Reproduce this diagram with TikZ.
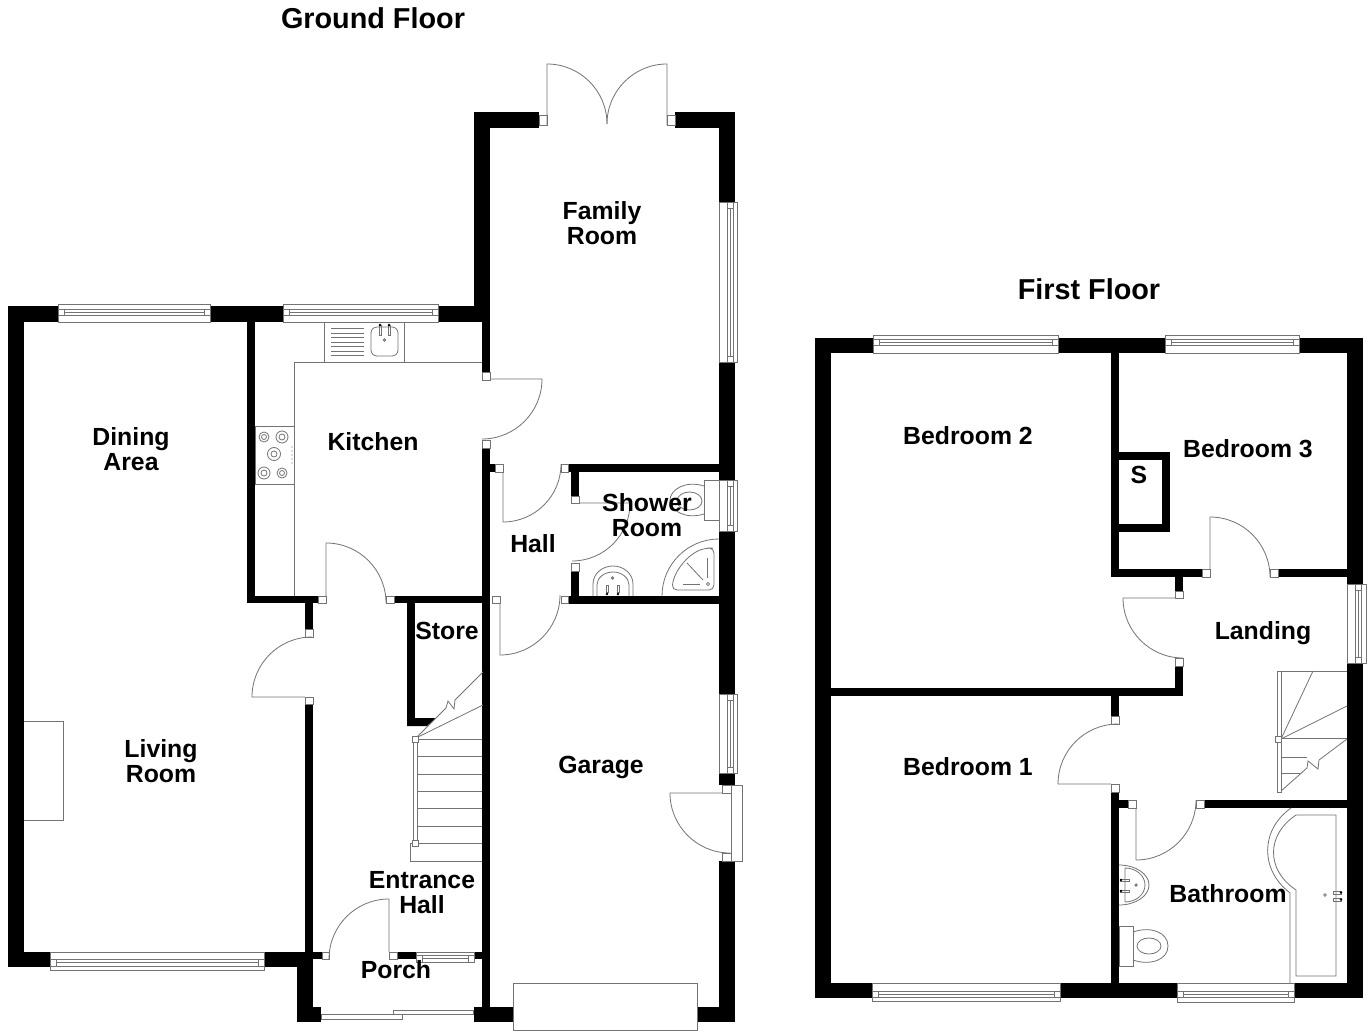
\documentclass[tikz,border=0pt]{standalone}
\usepackage{fontspec}
\setmainfont{Liberation Sans}
\usepackage{tikz}

\tikzset{
	wall/.style={fill=black},
	fitting/.style={draw=black!55, line width=0.8pt},
	pane/.style={draw=black!55, line width=0.8pt, fill=white},
	tapend/.style={fill=black},
	roomlabel/.style={font=\fontsize{24.8}{25}\selectfont\bfseries, align=center, inner sep=0pt},
	floorlabel/.style={font=\fontsize{28.8}{29}\selectfont\bfseries, align=center, inner sep=0pt}
}

% glazing bar of a window: from, to, and the two sides of the bar
\newcommand{\hglaze}[4]{\draw[fitting] (#1,#3) rectangle (#2,#4)
	({#1+6},#3) -- ({#1+6},#4) ({#2-6},#3) -- ({#2-6},#4)
	({#1+6},{(#3+#4)/2}) -- ({#2-6},{(#3+#4)/2});}
\newcommand{\vglaze}[4]{\draw[fitting] (#3,#1) rectangle (#4,#2)
	(#3,{#1+6}) -- (#4,{#1+6}) (#3,{#2-6}) -- (#4,{#2-6})
	({(#3+#4)/2},{#1+6}) -- ({(#3+#4)/2},{#2-6});}

\begin{document}
\begin{tikzpicture}[x=1pt, y=-1pt]
	\def \swing {60}

	\useasboundingbox (0,0) rectangle (1368,1032);
	\fill[white] (0,0) rectangle (1368,1032);

	% ground floor walls
	\fill[wall] (8,306) rectangle (58,322);
	\fill[wall] (210,306) rectangle (283,322);
	\fill[wall] (438,306) rectangle (490,322);
	\fill[wall] (8,306) rectangle (24,967);
	\fill[wall] (8,952) rectangle (50,967);
	\fill[wall] (264,952) rectangle (313,967);
	\fill[wall] (297,952) rectangle (313,1022);
	\fill[wall] (297,1007) rectangle (321,1022);
	\fill[wall] (305,952) rectangle (322,959);
	\fill[wall] (305,704) rectangle (313,952);
	\fill[wall] (305,603) rectangle (313,629);
	\fill[wall] (247,322) rectangle (255,603);
	\fill[wall] (247,596) rectangle (318,603);
	\fill[wall] (394,596) rectangle (490,603);
	\fill[wall] (407,596) rectangle (415,726);
	\fill[wall] (407,718) -- (436,718) -- (427,726) -- (407,726) -- cycle;
	\fill[wall] (474,112) rectangle (490,322);
	\fill[wall] (474,112) rectangle (539,128);
	\fill[wall] (675,112) rectangle (735,128);
	\fill[wall] (482,322) rectangle (490,372);
	\fill[wall] (482,448) rectangle (490,1022);
	\fill[wall] (490,464) rectangle (495,472);
	\fill[wall] (719,112) rectangle (735,202);
	\fill[wall] (719,362) rectangle (735,480);
	\fill[wall] (719,531) rectangle (735,694);
	\fill[wall] (719,773) rectangle (735,785);
	\fill[wall] (719,861) rectangle (735,1022);
	\fill[wall] (568,464) rectangle (719,472);
	\fill[wall] (571,472) rectangle (579,496);
	\fill[wall] (571,571) rectangle (579,596);
	\fill[wall] (568,596) rectangle (719,604);
	\fill[wall] (397,952) rectangle (416,959);
	\fill[wall] (474,952) rectangle (482,959);
	\fill[wall] (474,1007) rectangle (513,1022);
	\fill[wall] (697,1007) rectangle (735,1022);

	% first floor walls
	\fill[wall] (815,338) rectangle (873,353);
	\fill[wall] (1058,338) rectangle (1165,353);
	\fill[wall] (1299,338) rectangle (1363,353);
	\fill[wall] (815,338) rectangle (831,998);
	\fill[wall] (815,983) rectangle (872,998);
	\fill[wall] (1060,983) rectangle (1177,998);
	\fill[wall] (1294,983) rectangle (1363,998);
	\fill[wall] (1347,338) rectangle (1363,584);
	\fill[wall] (1347,663) rectangle (1363,998);
	\fill[wall] (1111,353) rectangle (1119,577);
	\fill[wall] (1111,569) rectangle (1202,577);
	\fill[wall] (1278,569) rectangle (1347,577);
	\fill[wall] (1119,452) rectangle (1170,460);
	\fill[wall] (1162,452) rectangle (1170,532);
	\fill[wall] (1119,524) rectangle (1170,532);
	\fill[wall] (1175,577) rectangle (1183,591);
	\fill[wall] (1175,666) rectangle (1183,696);
	\fill[wall] (831,688) rectangle (1183,696);
	\fill[wall] (1111,696) rectangle (1119,716);
	\fill[wall] (1111,792) rectangle (1119,983);
	\fill[wall] (1119,800) rectangle (1128,808);
	\fill[wall] (1204,800) rectangle (1347,808);

	% windows
	\draw[pane] (58,304) rectangle (210,322);
	\hglaze{58}{210}{309}{315}
	\draw[pane] (283,304) rectangle (438,322);
	\hglaze{283}{438}{309}{315}
	\draw[pane] (719,202) rectangle (737,362);
	\vglaze{202}{362}{727}{733}
	\draw[pane] (719,480) rectangle (737,531);
	\vglaze{480}{531}{727}{733}
	\draw[pane] (719,694) rectangle (737,773);
	\vglaze{694}{773}{727}{733}
	\draw[pane] (50,952) rectangle (264,970);
	\hglaze{50}{264}{959}{966}
	\draw[pane] (416,952) rectangle (474,962);
	\hglaze{416}{474}{955}{962}
	\draw[pane] (873,335) rectangle (1058,353);
	\hglaze{873}{1058}{339}{345}
	\draw[pane] (1165,335) rectangle (1299,353);
	\hglaze{1165}{1299}{339}{345}
	\draw[pane] (1347,584) rectangle (1366,663);
	\vglaze{584}{663}{1355}{1361}
	\draw[pane] (872,983) rectangle (1060,1001);
	\hglaze{872}{1060}{991}{997}
	\draw[pane] (1177,983) rectangle (1294,1002);
	\hglaze{1177}{1294}{991}{997}

	% outside doors
	\draw[pane] (513,983) rectangle (697,1030);
	\draw[pane] (321,1014) rectangle (402,1019);
	\draw[pane] (393,1010) rectangle (473,1014);
	\draw[pane] (731,785) rectangle (742,861);

	% door posts
	\draw[pane] (539,115) rectangle (547,125);
	\draw[pane] (667,115) rectangle (675,125);
	\draw[pane] (482,372) rectangle (490,380);
	\draw[pane] (482,440) rectangle (490,448);
	\draw[pane] (305,629) rectangle (313,637);
	\draw[pane] (305,697) rectangle (313,704);
	\draw[pane] (318,596) rectangle (326,603);
	\draw[pane] (386,596) rectangle (394,603);
	\draw[pane] (495,464) rectangle (503,472);
	\draw[pane] (561,464) rectangle (568,472);
	\draw[pane] (571,496) rectangle (579,503);
	\draw[pane] (571,563) rectangle (579,571);
	\draw[pane] (492,596) rectangle (500,603);
	\draw[pane] (561,596) rectangle (568,603);
	\draw[pane] (322,952) rectangle (329,959);
	\draw[pane] (389,952) rectangle (397,959);
	\draw[pane] (722,785) rectangle (731,793);
	\draw[pane] (722,853) rectangle (731,861);
	\draw[pane] (1202,569) rectangle (1210,577);
	\draw[pane] (1270,569) rectangle (1278,577);
	\draw[pane] (1175,591) rectangle (1183,598);
	\draw[pane] (1175,658) rectangle (1183,666);
	\draw[pane] (1111,716) rectangle (1119,724);
	\draw[pane] (1111,784) rectangle (1119,792);
	\draw[pane] (1128,800) rectangle (1136,808);
	\draw[pane] (1196,800) rectangle (1204,808);

	% door leaves
	\draw[fitting] (547,125) -- (547,64) arc[start angle=-90, end angle=0, radius=\swing];
	\draw[fitting] (667,125) -- (667,64) arc[start angle=-90, end angle=-180, radius=\swing];
	\draw[fitting] (490,379) -- (542,379) arc[start angle=0, end angle=90, radius=\swing];
	\draw[fitting] (305,697) -- (252,697) arc[start angle=180, end angle=270, radius=\swing];
	\draw[fitting] (326,596) -- (326,543) arc[start angle=-90, end angle=0, radius=\swing];
	\draw[fitting] (503,472) -- (503,522) arc[start angle=90, end angle=0, radius=58];
	\draw[fitting] (579,503) -- (630,503) arc[start angle=0, end angle=90, radius=58];
	\draw[fitting] (500,603) -- (500,655) arc[start angle=90, end angle=0, radius=\swing];
	\draw[fitting] (389,952) -- (389,899) arc[start angle=-90, end angle=-180, radius=\swing];
	\draw[fitting] (722,793) -- (670,793) arc[start angle=180, end angle=90, radius=\swing];
	\draw[fitting] (1210,569) -- (1210,517) arc[start angle=-90, end angle=0, radius=\swing];
	\draw[fitting] (1175,598) -- (1123,598) arc[start angle=180, end angle=90, radius=\swing];
	\draw[fitting] (1111,784) -- (1058,784) arc[start angle=180, end angle=270, radius=\swing];
	\draw[fitting] (1136,808) -- (1136,860) arc[start angle=90, end angle=0, radius=\swing];

	% kitchen units
	\draw[fitting] (294,596) -- (294,362) -- (482,362);
	\draw[fitting] (324,322) rectangle (404,362);
	\draw[fitting, rounded corners=6pt] (371,327) rectangle (398,356);
	\draw[fitting] (331,328) -- (364,328);
	\draw[fitting] (331,333) -- (364,333);
	\draw[fitting] (331,337) -- (364,337);
	\draw[fitting] (331,342) -- (364,342);
	\draw[fitting] (331,346) -- (364,346);
	\draw[fitting] (331,351) -- (364,351);
	\draw[fitting] (331,355) -- (364,355);
	\draw[fitting] (379,325) rectangle (381,335);
	\draw[fitting] (388,325) rectangle (390,335);
	\fill[tapend] (380,325) circle (1.3);
	\fill[tapend] (389,325) circle (1.3);
	\draw[fitting] (384.5,340) circle (1.2);
	\draw[fitting] (255,426) rectangle (294,484);
	\draw[fitting] (264,437) circle (5) (264,437) circle (2.5);
	\draw[fitting] (282,437) circle (6) (282,437) circle (3);
	\draw[fitting] (274,454) circle (6.5) (274,454) circle (3);
	\draw[fitting] (264,473) circle (6) (264,473) circle (3);
	\draw[fitting] (282,473) circle (5) (282,473) circle (2.5);
	\fill[black!60] (292,447) circle (0.7) (292,451) circle (0.7) (292,455) circle (0.7) (292,459) circle (0.7) (292,463) circle (0.7);

	% fireplace and stairs, ground floor
	\draw[fitting] (24,721) -- (63,721) -- (63,820) -- (24,820);
	\draw[fitting] (418,739) -- (482,739);
	\draw[fitting] (418,756) -- (482,756);
	\draw[fitting] (418,774) -- (482,774);
	\draw[fitting] (418,791) -- (482,791);
	\draw[fitting] (418,808) -- (482,808);
	\draw[fitting] (418,826) -- (482,826);
	\draw[fitting] (410,861) -- (410,843) -- (482,843) (410,861) -- (482,861);
	\draw[fitting] (413,739) rectangle (417,843);
	\draw[fitting] (416,738) -- (483,705);
	\draw[fitting] (416,738) -- (446,708) -- (448,701) -- (454,709) -- (455,700) -- (483,672);
	\draw[pane] (412,736) rectangle (418,742);
	\draw[pane] (412,840) rectangle (418,846);

	% shower room fittings
	\draw[fitting] (704,480) rectangle (719,520);
	\draw[fitting] (704,486) .. controls (685,480) and (670,490) .. (670,500) .. controls (670,510) and (685,520) .. (704,514);
	\draw[fitting] (689.5,501) ellipse (12.5 and 9);
	\draw[fitting] (593,596) -- (593,584) arc[start angle=180, end angle=360, x radius=20, y radius=18] -- (633,596);
	\draw[fitting] (597,596) -- (597,585) arc[start angle=180, end angle=360, x radius=16, y radius=13] -- (629,596);
	\draw[fitting] (606,585) rectangle (608,592);
	\draw[fitting] (617,585) rectangle (619,592);
	\fill[tapend] (607,594) circle (1.3);
	\fill[tapend] (618,594) circle (1.3);
	\draw[fitting] (612.5,578) circle (1.2);
	\draw[fitting] (662,596) arc[start angle=180, end angle=270, radius=57];
	\draw[fitting, rounded corners=5pt] (714,570) -- (714,590) -- (672,590) .. controls (674,570) and (690,552) .. (708,548) -- (714,548) -- cycle;
	\draw[fitting] (687,563) -- (703,580);
	\draw[fitting] (707,558) -- (707,578);
	\draw[fitting] (683,584) -- (700,584);
	\draw[fitting] (708,584) circle (1.6);

	% stairs, first floor
	\draw[fitting] (1277,671) rectangle (1281,792);
	\draw[fitting] (1277,671) -- (1347,671);
	\draw[fitting] (1281,739) -- (1313,671);
	\draw[fitting] (1281,739) -- (1347,706);
	\draw[fitting] (1281,738) -- (1347,738);
	\draw[fitting] (1281,757) -- (1307,757);
	\draw[fitting] (1281,773) -- (1301,773);
	\draw[fitting] (1281,791) -- (1307,768) -- (1308,761) -- (1318,769) -- (1319,760) -- (1347,739);
	\draw[pane] (1275,736) rectangle (1281,742);

	% bathroom fittings
	\draw[fitting] (1291,808) .. controls (1260,830) and (1260,870) .. (1290,893) -- (1290,983);
	\draw[fitting] (1296,815) -- (1336,815) -- (1336,976) -- (1296,976) -- (1296,890) .. controls (1266,870) and (1266,835) .. cycle;
	\draw[fitting] (1325,895) circle (1.4);
	\draw[fitting] (1333,891) rectangle (1341,894);
	\draw[fitting] (1333,898) rectangle (1341,901);
	\fill[tapend] (1341,892.5) circle (1.3);
	\fill[tapend] (1341,899.5) circle (1.3);
	\draw[fitting] (1119,865) arc[start angle=-90, end angle=90, x radius=30, y radius=20];
	\draw[fitting] (1125,868) arc[start angle=-90, end angle=90, x radius=20, y radius=17] -- cycle;
	\draw[fitting] (1120,879) rectangle (1129,881);
	\draw[fitting] (1120,890) rectangle (1129,892);
	\fill[tapend] (1121,880) circle (1.3);
	\fill[tapend] (1121,891) circle (1.3);
	\draw[fitting] (1136,885) circle (1.2);
	\draw[fitting] (1119,926) rectangle (1133,966);
	\draw[fitting] (1133,932) .. controls (1150,926) and (1168,932) .. (1168,946) .. controls (1168,960) and (1150,966) .. (1133,960);
	\draw[fitting] (1149,946) ellipse (12 and 8);

	% labels
	\node[floorlabel] (groundtitle) at (373,18) {Ground Floor};
	\node[floorlabel] (firsttitle) at (1089,289) {First Floor};
	\node[roomlabel] (family) at (602,223) {Family\\Room};
	\node[roomlabel] (dining) at (131,449) {Dining\\Area};
	\node[roomlabel] (kitchen) at (373,442) {Kitchen};
	\node[roomlabel] (hall) at (533,544) {Hall};
	\node[roomlabel] (shower) at (647,515) {Shower\\Room};
	\node[roomlabel] (store) at (447,631) {Store};
	\node[roomlabel] (living) at (161,761) {Living\\Room};
	\node[roomlabel] (garage) at (601,767) {Garage};
	\node[roomlabel] (entrance) at (422,893) {Entrance\\Hall};
	\node[roomlabel] (porch) at (396,970) {Porch};
	\node[roomlabel] (bedtwo) at (968,436) {Bedroom 2};
	\node[roomlabel] (bedthree) at (1248,449) {Bedroom 3};
	\node[roomlabel] (cupboard) at (1139,475) {S};
	\node[roomlabel] (landing) at (1263,633) {Landing};
	\node[roomlabel] (bedone) at (968,767) {Bedroom 1};
	\node[roomlabel] (bathroom) at (1228,894) {Bathroom};
\end{tikzpicture}
\end{document}
